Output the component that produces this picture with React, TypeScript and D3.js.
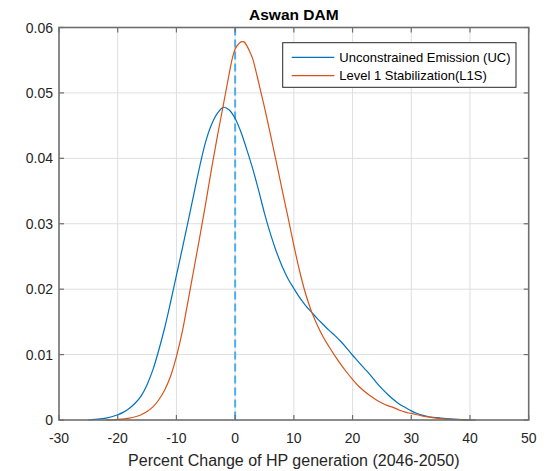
import React from "react";
import * as d3 from "d3";

const ucX = [-25, -24, -22, -20, -19, -18, -17, -16, -15, -14, -13, -12, -11, -10, -9, -8, -7, -6, -5, -4, -3, -2, -1, 0, 1, 2, 3, 4, 5, 6, 7, 8, 9, 10, 11, 12, 13, 14, 15, 16, 17, 18, 19, 20, 21, 22, 23, 24, 25, 26, 27, 28, 29, 30, 31, 32, 33, 35, 38, 41];
const ucY = [0, 0.0001, 0.0003, 0.0008, 0.0012, 0.0018, 0.0026, 0.0037, 0.0054, 0.0077, 0.0107, 0.0141, 0.018, 0.0221, 0.0262, 0.0304, 0.0347, 0.0389, 0.0426, 0.0452, 0.0469, 0.0478, 0.0474, 0.0461, 0.044, 0.0413, 0.0384, 0.0351, 0.0316, 0.0285, 0.0258, 0.0235, 0.0216, 0.0201, 0.0187, 0.0175, 0.0165, 0.0155, 0.0146, 0.0137, 0.0129, 0.012, 0.011, 0.0099, 0.0089, 0.0079, 0.0069, 0.0058, 0.0048, 0.0039, 0.0031, 0.0024, 0.0019, 0.0014, 0.001, 0.0007, 0.0005, 0.0003, 0.0001, 0];

const l1sX = [-22, -20, -18, -17, -16, -15, -14, -13, -12, -11, -10, -9, -8, -7, -6, -5, -4, -3, -2, -1, -0.5, 0, 0.5, 1, 1.5, 2, 2.5, 3, 3.5, 4, 4.5, 5, 6, 7, 8, 9, 10, 11, 12, 13, 14, 15, 16, 17, 18, 19, 20, 21, 22, 23, 24, 25, 26, 27, 28, 29, 30, 32, 35, 38, 40];
const l1sY = [0, 0.0001, 0.0003, 0.0005, 0.0008, 0.0013, 0.002, 0.0031, 0.0046, 0.0067, 0.0097, 0.0135, 0.0183, 0.0232, 0.0281, 0.0332, 0.0385, 0.0435, 0.0482, 0.053, 0.0552, 0.0567, 0.0574, 0.0578, 0.0578, 0.0572, 0.0563, 0.0552, 0.0535, 0.0516, 0.0497, 0.0478, 0.0437, 0.0395, 0.0352, 0.031, 0.0267, 0.0227, 0.0193, 0.0166, 0.0145, 0.0127, 0.0112, 0.0098, 0.0085, 0.0073, 0.0062, 0.0052, 0.0044, 0.0037, 0.0031, 0.0026, 0.0022, 0.0019, 0.0015, 0.0012, 0.001, 0.0006, 0.0002, 0.00005, 0];

const xTicks = [-30, -20, -10, 0, 10, 20, 30, 40, 50];
const yTicks = [0, 0.01, 0.02, 0.03, 0.04, 0.05, 0.06];
const seriesNames = ["Unconstrained Emission (UC)", "Level 1 Stabilization(L1S)"];
const titleText = "Aswan DAM";
const xLabel = "Percent Change of HP generation (2046-2050)";

const W = 552, H = 471;
const L = 59, R = 528.7, T = 27.5, B = 420;
const FONT = "'Liberation Sans', Arial, Helvetica, sans-serif";
const BLUE = "#0072BD";
const ORANGE = "#D95319";

export default function App() {
  const x = d3.scaleLinear().domain([-30, 50]).range([L, R]);
  const y = d3.scaleLinear().domain([0, 0.06]).range([B, T]);
  const line = d3.line<[number, number]>().x(d => x(d[0])).y(d => y(d[1])).curve(d3.curveCatmullRom.alpha(0.5));
  const uc = line(ucX.map((v, i) => [v, ucY[i]] as [number, number])) || "";
  const l1s = line(l1sX.map((v, i) => [v, l1sY[i]] as [number, number])) || "";
  const tk = 5;
  const axisColor = "#6e6e6e";
  const lg = { x0: 282.7, x1: 516, y0: 42.7, y1: 87.3 };
  const rows = [57.3, 75.7];
  return (
    <svg width={W} height={H} style={{ position: "absolute", left: 0, top: 0, background: "#fff" }} fontFamily={FONT}>
      <rect x={0} y={0} width={W} height={H} fill="#fff" />
      <rect x={L} y={T} width={R - L} height={B - T} fill="#fff" />
      {xTicks.slice(1, -1).map(t => (
        <line key={"gx" + t} x1={x(t)} x2={x(t)} y1={T} y2={B} stroke="#dedede" strokeWidth={1} />
      ))}
      {yTicks.slice(1, -1).map(t => (
        <line key={"gy" + t} x1={L} x2={R} y1={y(t)} y2={y(t)} stroke="#dedede" strokeWidth={1} />
      ))}
      <line x1={x(0)} x2={x(0)} y1={T} y2={B} stroke="#4DAEE8" strokeWidth={2} strokeDasharray="8,4" />
      <path d={uc} fill="none" stroke={BLUE} strokeWidth={1.2} />
      <path d={l1s} fill="none" stroke={ORANGE} strokeWidth={1.2} />
      <rect x={L} y={T} width={R - L} height={B - T} fill="none" stroke={axisColor} strokeWidth={1.6} />
      {xTicks.map(t => (
        <g key={"xt" + t}>
          <line x1={x(t)} x2={x(t)} y1={B} y2={B - tk} stroke={axisColor} strokeWidth={1.2} />
          <line x1={x(t)} x2={x(t)} y1={T} y2={T + tk} stroke={axisColor} strokeWidth={1.2} />
          <text x={x(t)} y={443} textAnchor="middle" fontSize={14} fill="#262626">{t}</text>
        </g>
      ))}
      {yTicks.map(t => (
        <g key={"yt" + t}>
          <line x1={L} x2={L + tk} y1={y(t)} y2={y(t)} stroke={axisColor} strokeWidth={1.2} />
          <line x1={R} x2={R - tk} y1={y(t)} y2={y(t)} stroke={axisColor} strokeWidth={1.2} />
          <text x={53} y={y(t) + 5} textAnchor="end" fontSize={14} fill="#262626">{t === 0 ? "0" : d3.format(".2f")(t)}</text>
        </g>
      ))}
      <text x={(L + R) / 2} y={20} textAnchor="middle" fontSize={15.5} fontWeight="bold" fill="#000">{titleText}</text>
      <text x={(L + R) / 2} y={465.5} textAnchor="middle" fontSize={16} fill="#262626">{xLabel}</text>
      <rect x={lg.x0} y={lg.y0} width={lg.x1 - lg.x0} height={lg.y1 - lg.y0} fill="#fff" stroke="#262626" strokeWidth={1} />
      {seriesNames.map((s, i) => (
        <g key={s}>
          <line x1={291.7} x2={334.3} y1={rows[i]} y2={rows[i]} stroke={i === 0 ? BLUE : ORANGE} strokeWidth={1.2} />
          <text x={339.3} y={rows[i] + 4.6} fontSize={13} fill="#000">{s}</text>
        </g>
      ))}
    </svg>
  );
}
